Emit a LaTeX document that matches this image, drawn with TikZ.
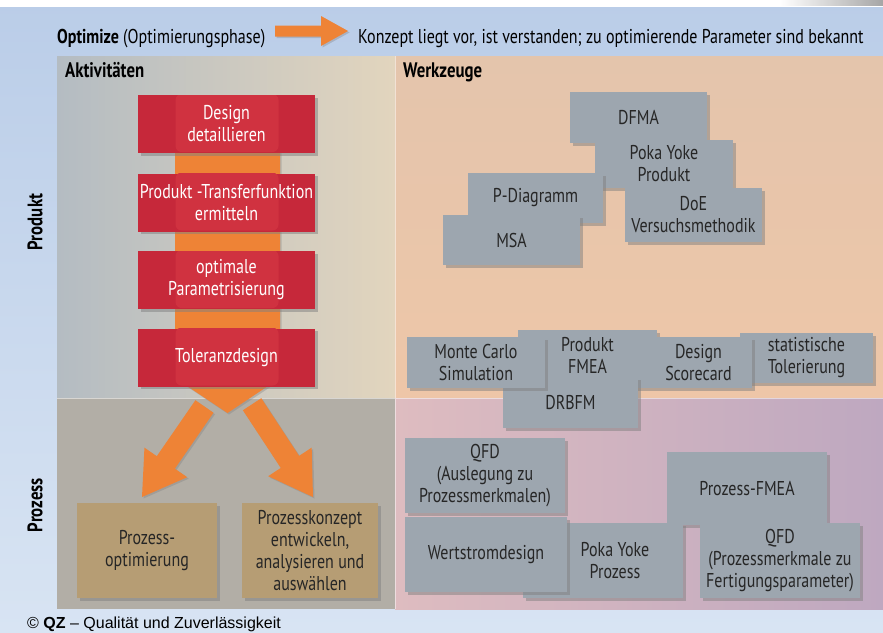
\documentclass[tikz,border=0pt]{standalone}
\usepackage{fontspec}
\setmainfont{PT Sans}[FakeStretch=0.80]
\newfontfamily\footfont{Liberation Sans}
\usetikzlibrary{shadows}

\definecolor{bgtop}{RGB}{186,205,232}
\definecolor{bgbottom}{RGB}{216,228,243}
\definecolor{actprodL}{RGB}{180,188,194}
\definecolor{actprodR}{RGB}{226,213,190}
\definecolor{toolprodT}{RGB}{228,197,172}
\definecolor{toolprodB}{RGB}{238,198,168}
\definecolor{actproc}{RGB}{178,174,166}
\definecolor{toolprocL}{RGB}{222,188,192}
\definecolor{toolprocR}{RGB}{190,168,192}
\definecolor{boxred}{RGB}{198,40,58}
\definecolor{bandred}{RGB}{208,50,64}
\definecolor{arrorange}{RGB}{238,131,54}
\definecolor{boxgray}{RGB}{157,166,175}
\definecolor{boxbrown}{RGB}{182,157,116}

\newcommand\boxfont{\fontsize{20}{22}\selectfont}
% tip, angle, length, head length, head half width, shaft half width
\newcommand\fatarrow[6]{%
  \fill[arrowfill, shift={#1}, rotate=#2]
    (0,0) -- (-#5,-#4) -- (-#6,-#4) -- (-#6,-#3) -- (#6,-#3) -- (#6,-#4) -- (#5,-#4) -- cycle;}

\begin{document}
\begin{tikzpicture}[x=1pt,y=-1pt,
    boxshadow/.style={drop shadow={shadow xshift=2.5pt,shadow yshift=-2.5pt,opacity=.5}},
    arrowfill/.style={fill=arrorange, drop shadow={shadow xshift=1.5pt,shadow yshift=-1.5pt,opacity=.35}},
    redbox/.style={fill=boxred, text=white, boxshadow, font=\boxfont, align=center, inner sep=0pt,
      minimum width=177pt, minimum height=58pt,
      path picture={\fill[bandred, rounded corners=6pt]
        ([xshift=-51pt,yshift=1pt]path picture bounding box.north) rectangle
        ([xshift=52pt,yshift=1pt]path picture bounding box.south);}},
    procbox/.style={fill=boxbrown, text=black!85, boxshadow, font=\boxfont, align=center, inner sep=0pt,
      minimum height=95pt},
    toolbox/.style={fill=boxgray, text=black!85, boxshadow, font=\boxfont, align=center, inner sep=0pt},
    headtext/.style={font=\fontsize{20}{22}\selectfont, anchor=base west, inner sep=0pt},
    paneltitle/.style={font=\fontsize{21}{23}\selectfont\bfseries, anchor=base west, inner sep=0pt}]

  \useasboundingbox (0,0) rectangle (883,632);

  % background and panels
  \shade[top color=bgtop, bottom color=bgbottom] (0,0) rectangle (883,632);
  \fill[white] (0,0) rectangle (883,7);
  \shade[left color=white, right color=black!35] (780,0) rectangle (883,5);
  \shade[left color=actprodL, right color=actprodR] (57,56) rectangle (395,398);
  \shade[top color=toolprodT, bottom color=toolprodB] (395,56) rectangle (883,398);
  \fill[actproc] (57,398) rectangle (395,609);
  \shade[left color=toolprocL, right color=toolprocR] (395,398) rectangle (883,609);
  \draw[white, opacity=.5, line width=1pt] (395,56) -- (395,609) (57,398) -- (883,398);

  % header
  \node[headtext] (phase) at (57,43) {\textbf{Optimize} (Optimierungsphase)};
  \coordinate (headtip) at (348,31);
  \fatarrow{(headtip)}{90}{73}{27}{15}{5.5}
  \node[headtext] (concept) at (358,43) {Konzept liegt vor, ist verstanden; zu optimierende Parameter sind bekannt};

  \node[paneltitle] (act) at (65,77) {Aktivitäten};
  \node[paneltitle] (tools) at (403,77) {Werkzeuge};
  \node[font=\fontsize{21}{23}\selectfont\bfseries, rotate=90] (prod) at (35,222) {Produkt};
  \node[font=\fontsize{21}{23}\selectfont\bfseries, rotate=90] (proc) at (35,505) {Prozess};

  % activities
  \fill[arrowfill] (175,100) -- (175,378) -- (227.5,413) -- (280,378) -- (280,100) -- cycle;
  \begin{scope}[every node/.style={redbox}]
    \node (design)   at (226.5,124)   {Design\\detaillieren};
    \node (transfer) at (226.5,202.5) {Produkt -Transferfunktion\\ermitteln};
    \node (param)    at (226.5,280)   {optimale\\Parametrisierung};
    \node (toleranz) at (226.5,357.5) {Toleranzdesign};
  \end{scope}

  \node[procbox, minimum width=140pt] (prozopt)  at (147,550.5) {Prozess-\\optimierung};
  \node[procbox, minimum width=136pt] (prozkonz) at (310,550.5) {Prozesskonzept\\entwickeln,\\analysieren und\\auswählen};

  \coordinate (tipL) at (142,497);
  \coordinate (tipR) at (313,497);
  \fatarrow{(tipL)}{-34.6}{110}{42}{26}{11}
  \fatarrow{(tipR)}{33.3}{111}{42}{26}{11}

  % tools, product
  \begin{scope}[every node/.style={toolbox}]
    \node[minimum width=137pt, minimum height=51pt] (dfma)   at (638.5,117.5) {DFMA};
    \node[minimum width=138pt, minimum height=48pt] (pokap)  at (664,164)     {Poka Yoke\\Produkt};
    \node[minimum width=135pt, minimum height=50pt] (pdiag)  at (535.5,198)   {P-Diagramm};
    \node[minimum width=137pt, minimum height=50pt] (msa)    at (511.5,240)   {MSA};
    \node[minimum width=137pt, minimum height=54pt] (doe)    at (693.5,215)   {DoE\\Versuchsmethodik};

    \node[minimum width=133pt, minimum height=50pt] (stat)   at (806.5,358)   {statistische\\Tolerierung};
    \node[minimum width=139pt, minimum height=51pt] (pfmea)  at (587.5,355.5) {Produkt\\FMEA};
    \node[minimum width=135pt, minimum height=51pt] (score)  at (684.5,362.5)
      {\hspace*{28pt}Design\\\hspace*{28pt}Scorecard};
    \node[minimum width=135pt, minimum height=51pt] (drbfm)  at (570.5,402.5) {DRBFM};
    \node[minimum width=138pt, minimum height=51pt] (monte)  at (476,362.5)   {Monte Carlo\\Simulation};

  % tools, process
    \node[minimum width=160pt, minimum height=73pt] (profmea) at (747,488.5)  {Prozess-FMEA};
    \node[minimum width=160pt, minimum height=75pt] (pokaz)   at (603,560.5)
      {\hspace*{24pt}Poka Yoke\\\hspace*{24pt}Prozess};
    \node[minimum width=162pt, minimum height=75pt] (wert)    at (486,554.5)  {Wertstromdesign};
    \node[minimum width=160pt, minimum height=75pt] (qfda)    at (485,475.5)  {QFD\\(Auslegung zu\\Prozessmerkmalen)};
    \node[minimum width=160pt, minimum height=75pt] (qfdb)    at (780,560.5)  {QFD\\(Prozessmerkmale zu\\Fertigungsparameter)};
  \end{scope}

  % footer
  \node[font=\footfont\fontsize{16}{19}\selectfont, anchor=base west, inner sep=0pt] (copy) at (27,628)
    {© \textbf{QZ} – Qualität und Zuverlässigkeit};
\end{tikzpicture}
\end{document}
